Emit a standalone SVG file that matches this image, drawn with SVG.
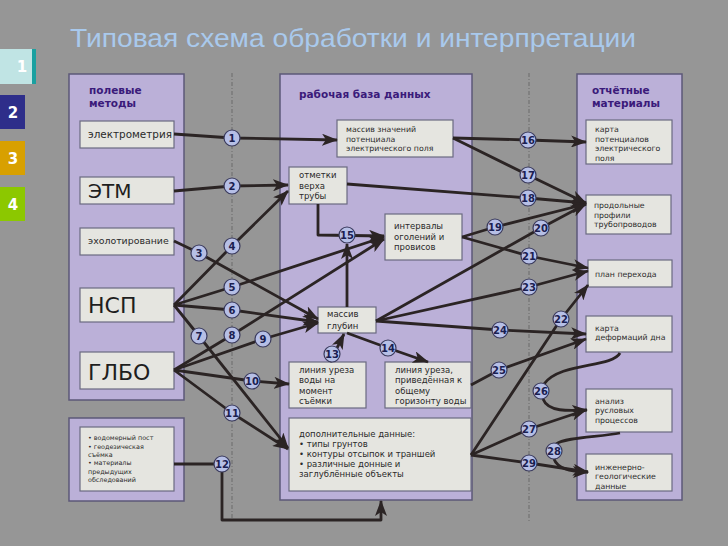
<svg xmlns="http://www.w3.org/2000/svg" width="728" height="546" viewBox="0 0 728 546">
<defs>
<style>
.panel{fill:#bbb0d8;stroke:#5c5878;stroke-width:1.5}
.box{fill:#e5e5e0;stroke:#6a6a80;stroke-width:1.2}
.ptitle{font-family:"DejaVu Sans",Verdana,sans-serif;font-size:10.5px;font-weight:bold;fill:#3a1a7a}
.t{font-family:"DejaVu Sans",Verdana,sans-serif;font-size:8.5px;fill:#2a2a2a}
.ts{font-family:"DejaVu Sans",Verdana,sans-serif;font-size:7.8px;fill:#2a2a2a}
.tx{font-family:"DejaVu Sans",Verdana,sans-serif;font-size:6.4px;fill:#2a2a2a}
.tb{font-family:"DejaVu Sans",Verdana,sans-serif;fill:#1e1e1e}
.c{fill:#b6bfe6;stroke:#3a3a5c;stroke-width:1.2}
.n{font-family:"DejaVu Sans",Verdana,sans-serif;font-size:10px;font-weight:bold;fill:#1a2050;text-anchor:middle}
.e{fill:none;stroke:#2b2424;stroke-width:2.8;stroke-linejoin:round}
.a{marker-end:url(#ah)}
.dash{stroke:#6a6a6a;stroke-width:1;stroke-dasharray:4 2 1 2;fill:none}
.tab{font-family:"DejaVu Sans",Verdana,sans-serif;font-size:15px;font-weight:bold;fill:#ffffff;text-anchor:middle}
</style>
<marker id="ah" viewBox="0 0 16 12" refX="15" refY="6" markerWidth="16" markerHeight="12" markerUnits="userSpaceOnUse" orient="auto">
<path d="M0,0 L16,6 L0,12 L4,6 z" fill="#2b2424"/>
</marker>
</defs>
<rect x="0" y="0" width="728" height="546" fill="#969696"/>
<text x="70" y="47" font-family="'Liberation Sans',Arial,sans-serif" font-size="25" fill="#a9c9ec" textLength="566" lengthAdjust="spacingAndGlyphs">Типовая схема обработки и интерпретации</text>
<g id="tabs">
<rect x="0" y="49" width="32" height="35" fill="#c0e4e4"/>
<rect x="32" y="49" width="4" height="35" fill="#1aa0a0"/>
<text x="22" y="72" class="tab">1</text>
<rect x="0" y="95" width="25" height="34" fill="#2e2e8a"/>
<text x="13" y="118" class="tab">2</text>
<rect x="0" y="141" width="25" height="34" fill="#d8a000"/>
<text x="13" y="164" class="tab">3</text>
<rect x="0" y="187" width="25" height="34" fill="#8cc800"/>
<text x="13" y="210" class="tab">4</text>
</g>
<g id="panels">
<rect class="panel" x="69" y="74" width="115" height="326"/>
<rect class="panel" x="69" y="418" width="115" height="83"/>
<rect class="panel" x="280" y="74" width="192" height="426"/>
<rect class="panel" x="577" y="74" width="105" height="426"/>
<text class="ptitle" x="89" y="94">полевые</text>
<text class="ptitle" x="89" y="107">методы</text>
<text class="ptitle" x="299" y="98">рабочая база данных</text>
<text class="ptitle" x="592" y="94">отчётные</text>
<text class="ptitle" x="592" y="107">материалы</text>
</g>
<line class="dash" x1="232" y1="73" x2="232" y2="522"/>
<line class="dash" x1="529" y1="73" x2="529" y2="522"/>
<g id="n-elektro"><rect class="box" x="80" y="121" width="94" height="27"/><text class="tb" x="88" y="138" style="font-size:10.4px;fill:#2a2a2a">электрометрия</text></g>
<g id="n-etm"><rect class="box" x="80" y="177" width="94" height="27"/><text class="tb" x="88" y="198" style="font-size:20px">ЭТМ</text></g>
<g id="n-eho"><rect class="box" x="80" y="228" width="94" height="27"/><text class="tb" x="88" y="244" style="font-size:9.4px;fill:#2a2a2a">эхолотирование</text></g>
<g id="n-nsp"><rect class="box" x="80" y="288" width="94" height="34"/><text class="tb" x="88" y="313" style="font-size:22px">НСП</text></g>
<g id="n-glbo"><rect class="box" x="80" y="352" width="94" height="37"/><text class="tb" x="88" y="380" style="font-size:22px">ГЛБО</text></g>
<g id="n-extra"><rect class="box" x="80" y="427" width="94" height="64"/>
<text class="tx" x="88" y="440">• водомерный пост</text>
<text class="tx" x="88" y="449">• геодезическая</text>
<text class="tx" x="88" y="457">съёмка</text>
<text class="tx" x="88" y="465">• материалы</text>
<text class="tx" x="88" y="474">предыдущих</text>
<text class="tx" x="88" y="482">обследований</text></g>
<g id="n-massiv-zn"><rect class="box" x="337" y="120" width="116" height="37"/>
<text class="ts" x="346" y="132">массив значений</text><text class="ts" x="346" y="142">потенциала</text><text class="ts" x="346" y="151">электрического поля</text></g>
<g id="n-otmetki"><rect class="box" x="289" y="167" width="58" height="37"/>
<text class="t" x="299" y="178">отметки</text><text class="t" x="299" y="189">верха</text><text class="t" x="299" y="199">трубы</text></g>
<g id="n-intervaly"><rect class="box" x="385" y="214" width="77" height="46"/>
<text class="t" x="394" y="229">интервалы</text><text class="t" x="394" y="240">оголений и</text><text class="t" x="394" y="250">провисов</text></g>
<g id="n-glubin"><rect class="box" x="318" y="307" width="58" height="26"/>
<text class="t" x="327" y="317">массив</text><text class="t" x="327" y="329">глубин</text></g>
<g id="n-urez1"><rect class="box" x="289" y="362" width="77" height="46"/>
<text class="t" x="299" y="373">линия уреза</text><text class="t" x="299" y="383">воды на</text><text class="t" x="299" y="394">момент</text><text class="t" x="299" y="404">съёмки</text></g>
<g id="n-urez2"><rect class="box" x="385" y="362" width="86" height="46"/>
<text class="t" x="395" y="373">линия уреза,</text><text class="t" x="395" y="383">приведённая к</text><text class="t" x="395" y="394">общему</text><text class="t" x="395" y="404">горизонту воды</text></g>
<g id="n-dop"><rect class="box" x="289" y="418" width="182" height="73"/>
<text class="t" x="299" y="437">дополнительные данные:</text><text class="t" x="299" y="447">• типы грунтов</text><text class="t" x="299" y="457">• контуры отсыпок и траншей</text><text class="t" x="299" y="467">• различные донные и</text><text class="t" x="299" y="477">заглублённые объекты</text></g>
<g id="n-karta-pot"><rect class="box" x="586" y="120" width="86" height="44"/>
<text class="ts" x="595" y="132">карта</text><text class="ts" x="595" y="142">потенциалов</text><text class="ts" x="595" y="151">электрического</text><text class="ts" x="595" y="161">поля</text></g>
<g id="n-profili"><rect class="box" x="586" y="195" width="85" height="39"/>
<text class="ts" x="594" y="208">продольные</text><text class="ts" x="594" y="218">профили</text><text class="ts" x="594" y="227">трубопроводов</text></g>
<g id="n-plan"><rect class="box" x="588" y="260" width="84" height="27"/><text class="ts" x="595" y="277">план перехода</text></g>
<g id="n-deform"><rect class="box" x="586" y="316" width="86" height="36"/>
<text class="ts" x="595" y="331">карта</text><text class="ts" x="595" y="340">деформаций дна</text></g>
<g id="n-analiz"><rect class="box" x="586" y="389" width="86" height="43"/>
<text class="ts" x="595" y="404">анализ</text><text class="ts" x="595" y="413">русловых</text><text class="ts" x="595" y="423">процессов</text></g>
<g id="n-ingeo"><rect class="box" x="586" y="454" width="86" height="37"/>
<text class="ts" x="595" y="470">инженерно-</text><text class="ts" x="595" y="479">геологические</text><text class="ts" x="595" y="489">данные</text></g>
<g id="connectors">
<polyline class="e a" points="174,134 232,138 337,140"/>
<polyline class="e a" points="174,191 232,186 288,185"/>
<polyline class="e a" points="174,241 199,253 318,319"/>
<polyline class="e a" points="174,305 232,246 288,191"/>
<polyline class="e a" points="174,305 232,287 384,237"/>
<polyline class="e a" points="174,305 232,310 318,322"/>
<polyline class="e a" points="174,305 199,336 288,448"/>
<polyline class="e a" points="174,370 232,335 384,239"/>
<polyline class="e a" points="174,370 263,339 318,323"/>
<polyline class="e a" points="174,370 252,381 289,384"/>
<polyline class="e a" points="174,370 232,413 288,449"/>
<polyline class="e a" points="174,464 222,464 222,520 381,520 381,501"/>
<polyline class="e a" points="330,362 344,334"/>
<polyline class="e a" points="347,333 388,348 428,362"/>
<polyline class="e a" points="318,204 318,235 384,236"/>
<polyline class="e a" points="347,307 347,244"/>
<polyline class="e a" points="453,138 528,140 586,142"/>
<polyline class="e a" points="453,138 528,175 586,203"/>
<polyline class="e a" points="347,184 528,198 586,203"/>
<polyline class="e a" points="462,237 495,227 586,204"/>
<polyline class="e a" points="376,321 541,228 586,204"/>
<polyline class="e a" points="462,237 529,256 588,268"/>
<polyline class="e a" points="376,321 529,287 588,271"/>
<polyline class="e a" points="471,455 561,319 588,285"/>
<polyline class="e a" points="376,321 500,330 586,334"/>
<polyline class="e a" points="471,385 499,370 586,339"/>
<path class="e" d="M620,353 C612,368 560,362 544,384"/>
<path class="e a" d="M543,399 C548,412 568,411 587,410"/>
<polyline class="e a" points="471,455 529,429 586,410"/>
<path class="e" d="M620,433 C600,437 565,437 556,444"/>
<path class="e a" d="M554,459 C558,470 574,472 588,472"/>
<polyline class="e a" points="471,455 529,463 588,472"/>
</g>
<g id="labels">
<circle class="c" cx="232" cy="138" r="8"/><text class="n" x="232" y="142">1</text>
<circle class="c" cx="232" cy="186" r="8"/><text class="n" x="232" y="190">2</text>
<circle class="c" cx="199" cy="253" r="8"/><text class="n" x="199" y="257">3</text>
<circle class="c" cx="232" cy="246" r="8"/><text class="n" x="232" y="250">4</text>
<circle class="c" cx="232" cy="287" r="8"/><text class="n" x="232" y="291">5</text>
<circle class="c" cx="232" cy="310" r="8"/><text class="n" x="232" y="314">6</text>
<circle class="c" cx="199" cy="336" r="8"/><text class="n" x="199" y="340">7</text>
<circle class="c" cx="232" cy="335" r="8"/><text class="n" x="232" y="339">8</text>
<circle class="c" cx="263" cy="339" r="8"/><text class="n" x="263" y="343">9</text>
<circle class="c" cx="252" cy="381" r="8"/><text class="n" x="252" y="385">10</text>
<circle class="c" cx="232" cy="413" r="8"/><text class="n" x="232" y="417">11</text>
<circle class="c" cx="222" cy="464" r="8"/><text class="n" x="222" y="468">12</text>
<circle class="c" cx="332" cy="354" r="8"/><text class="n" x="332" y="358">13</text>
<circle class="c" cx="388" cy="348" r="8"/><text class="n" x="388" y="352">14</text>
<circle class="c" cx="347" cy="235" r="8"/><text class="n" x="347" y="239">15</text>
<circle class="c" cx="528" cy="140" r="8"/><text class="n" x="528" y="144">16</text>
<circle class="c" cx="528" cy="175" r="8"/><text class="n" x="528" y="179">17</text>
<circle class="c" cx="528" cy="198" r="8"/><text class="n" x="528" y="202">18</text>
<circle class="c" cx="495" cy="227" r="8"/><text class="n" x="495" y="231">19</text>
<circle class="c" cx="541" cy="228" r="8"/><text class="n" x="541" y="232">20</text>
<circle class="c" cx="529" cy="256" r="8"/><text class="n" x="529" y="260">21</text>
<circle class="c" cx="561" cy="319" r="8"/><text class="n" x="561" y="323">22</text>
<circle class="c" cx="529" cy="287" r="8"/><text class="n" x="529" y="291">23</text>
<circle class="c" cx="500" cy="330" r="8"/><text class="n" x="500" y="334">24</text>
<circle class="c" cx="499" cy="370" r="8"/><text class="n" x="499" y="374">25</text>
<circle class="c" cx="541" cy="391" r="8"/><text class="n" x="541" y="395">26</text>
<circle class="c" cx="529" cy="429" r="8"/><text class="n" x="529" y="433">27</text>
<circle class="c" cx="554" cy="451" r="8"/><text class="n" x="554" y="455">28</text>
<circle class="c" cx="529" cy="463" r="8"/><text class="n" x="529" y="467">29</text>
</g>
</svg>
